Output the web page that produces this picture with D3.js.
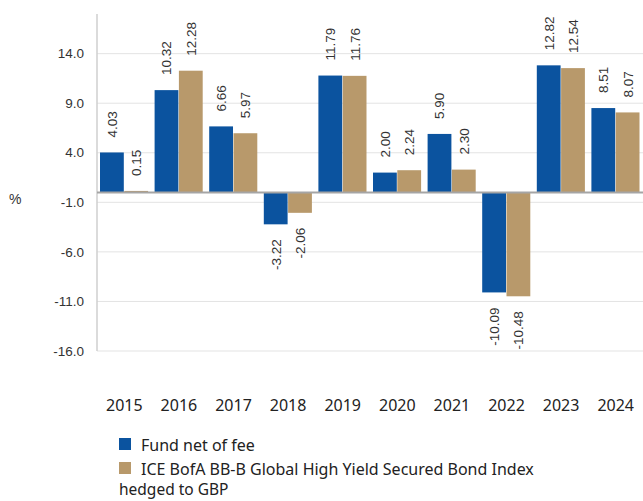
<!DOCTYPE html>
<html>
<head>
<meta charset="utf-8">
<script src="https://cdn.jsdelivr.net/npm/d3@7"></script>
<style>
  body { margin: 0; background: #fff; }
  svg { display: block; }
</style>
</head>
<body>
<div id="chart"></div>
<script>
// chart data
var years = ["2015", "2016", "2017", "2018", "2019", "2020", "2021", "2022", "2023", "2024"];
var fund = [4.03, 10.32, 6.66, -3.22, 11.79, 2.00, 5.90, -10.09, 12.82, 8.51];
var index = [0.15, 12.28, 5.97, -2.06, 11.76, 2.24, 2.30, -10.48, 12.54, 8.07];
var seriesNames = ["Fund net of fee", "ICE BofA BB-B Global High Yield Secured Bond Index"];
var seriesWrap = ["", "hedged to GBP"];
var yTicks = [-16, -11, -6, -1, 4, 9, 14];

var colors = ["#0b539f", "#b8996b"];

var W = 643, H = 501;
var margin = {top: 14, right: 0, bottom: 150, left: 97};
var width = W - margin.left - margin.right,
    height = 351 - margin.top;

var svg = d3.select("#chart").append("svg")
  .attr("width", W)
  .attr("height", H);

var g = svg.append("g").attr("transform", "translate(" + margin.left + "," + margin.top + ")");

var x = d3.scaleBand()
  .domain(years)
  .range([0, width])
  .paddingInner(0.11)
  .paddingOuter(0.055);

var x1 = d3.scaleBand()
  .domain([0, 1])
  .range([0, x.bandwidth()]);

var y = d3.scaleLinear()
  .domain([-16, 18])
  .range([height, 0]);

// plain hyphen for negatives, like the original
function fmt(d, n) { return d.toFixed(n); }

// gridlines
g.append("g")
  .selectAll("line")
  .data(yTicks)
  .enter().append("line")
    .attr("x1", 0)
    .attr("x2", width)
    .attr("y1", function(d) { return y(d); })
    .attr("y2", function(d) { return y(d); })
    .attr("stroke", "#e3e3e3")
    .attr("stroke-width", 1);

// y tick labels
g.append("g")
  .selectAll("text")
  .data(yTicks)
  .enter().append("text")
    .attr("x", -13)
    .attr("y", function(d) { return y(d); })
    .attr("dy", "0.35em")
    .attr("text-anchor", "end")
    .style("font-family", "'Liberation Sans', Arial, sans-serif")
    .style("font-size", "13.5px")
    .style("fill", "#333")
    .text(function(d) { return fmt(d, 1); });

// left axis line
g.append("line")
  .attr("x1", 0).attr("x2", 0)
  .attr("y1", 0).attr("y2", height)
  .attr("stroke", "#cfcfcf")
  .attr("stroke-width", 1.5);

svg.append("text")
  .attr("x", 9)
  .attr("y", 204)
  .style("font-family", "'Liberation Sans', Arial, sans-serif")
  .style("font-size", "14px")
  .style("fill", "#333")
  .text("%");

var rows = years.map(function(yr, i) { return {year: yr, vals: [fund[i], index[i]]}; });

var groups = g.selectAll(".grp")
  .data(rows)
  .enter().append("g")
    .attr("class", "grp")
    .attr("transform", function(d) { return "translate(" + x(d.year) + ",0)"; });

groups.selectAll("rect")
  .data(function(d) { return d.vals; })
  .enter().append("rect")
    .attr("x", function(d, i) { return x1(i); })
    .attr("y", function(d) { return y(Math.max(0, d)); })
    .attr("width", x1.bandwidth() - 0.5)
    .attr("height", function(d) { return Math.abs(y(d) - y(0)); })
    .attr("fill", function(d, i) { return colors[i]; });

// value labels, rotated
groups.selectAll("text")
  .data(function(d) { return d.vals; })
  .enter().append("text")
    .attr("transform", function(d, i) {
      var cx = x1(i) + x1.bandwidth() / 2;
      var cy = d >= 0 ? y(d) - 15 : y(d) + 15;
      return "translate(" + cx + "," + cy + ") rotate(-90)";
    })
    .attr("dy", "0.35em")
    .attr("text-anchor", function(d) { return d >= 0 ? "start" : "end"; })
    .style("font-family", "'Liberation Sans', Arial, sans-serif")
    .style("font-size", "13.5px")
    .style("fill", "#333")
    .text(function(d) { return fmt(d, 2); });

// zero line
g.append("line")
  .attr("x1", 0).attr("x2", width)
  .attr("y1", y(0)).attr("y2", y(0))
  .attr("stroke", "#a5a5a5")
  .attr("stroke-width", 2);

// year labels
g.append("g")
  .selectAll("text")
  .data(years)
  .enter().append("text")
    .attr("x", function(d) { return x(d) + x.bandwidth() / 2; })
    .attr("y", 397)
    .attr("text-anchor", "middle")
    .style("font-family", "'Noto Sans', sans-serif")
    .style("font-size", "16px")
    .style("fill", "#222")
    .text(function(d) { return d; });

// legend
var legend = svg.selectAll(".legend")
  .data(seriesNames)
  .enter().append("g")
    .attr("class", "legend")
    .attr("transform", function(d, i) { return "translate(119," + (438 + i * 24) + ")"; });

legend.append("rect")
  .attr("width", 12)
  .attr("height", 12)
  .attr("fill", function(d, i) { return colors[i]; });

legend.append("text")
  .attr("x", 22)
  .attr("y", 12.5)
  .style("font-family", "'Noto Sans', sans-serif")
  .style("font-size", "16px")
  .style("fill", "#222")
  .text(function(d) { return d; });

legend.append("text")
  .attr("x", 0)
  .attr("y", 33)
  .style("font-family", "'Noto Sans', sans-serif")
  .style("font-size", "15.5px")
  .style("fill", "#222")
  .text(function(d, i) { return seriesWrap[i]; });
</script>
</body>
</html>
